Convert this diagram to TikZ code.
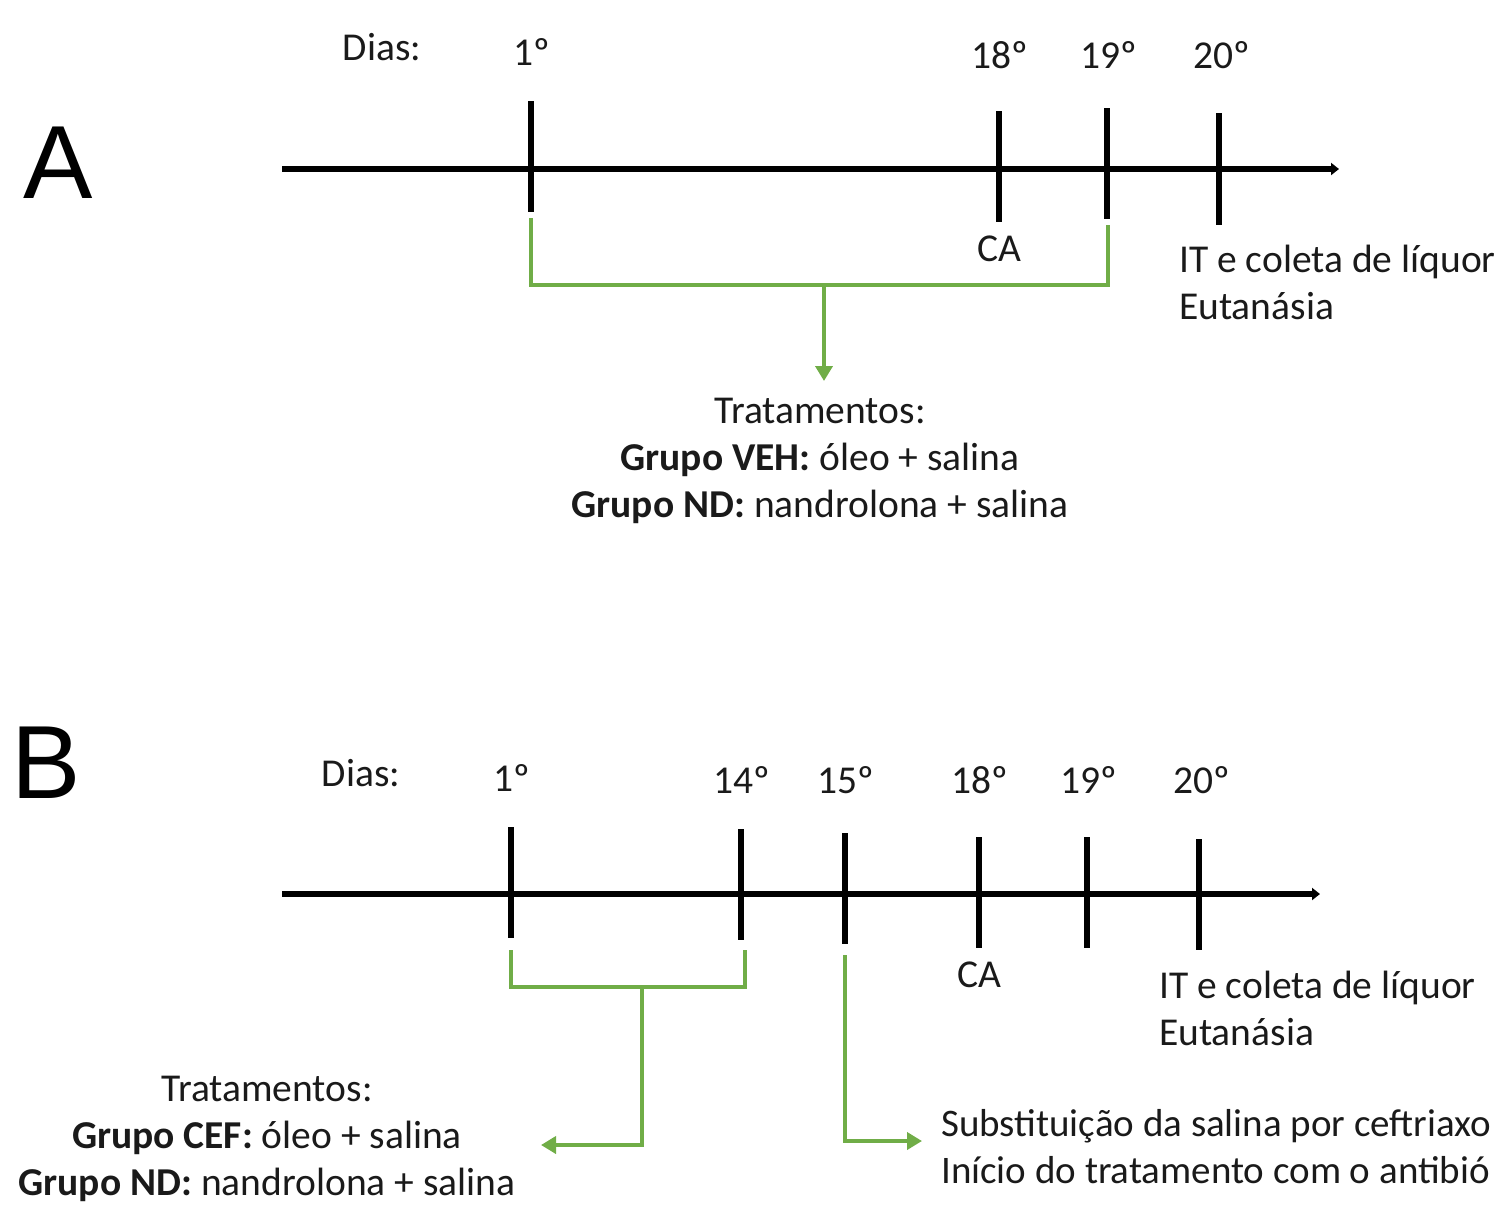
\documentclass[tikz,border=0pt]{standalone}
\usepackage{fontspec}
\setmainfont{Carlito}
\newfontfamily\arialfont{Liberation Sans}
\usetikzlibrary{arrows.meta}
\definecolor{grn}{HTML}{70AD47}
\definecolor{txt}{HTML}{1A1A1A}
\tikzset{
  lbl/.style={font=\fontsize{39.5}{47}\selectfont, inner sep=0pt, text=txt},
  big/.style={font=\arialfont\fontsize{104}{110}\selectfont, inner sep=0pt},
  axisline/.style={line width=5.5pt, -{Triangle[length=8pt,width=12pt]}},
  tickline/.style={line width=6pt},
  gline/.style={grn, line width=4pt},
  garrow/.style={grn, line width=4pt, -{Triangle[length=15pt,width=17pt]}},
}
\begin{document}
\begin{tikzpicture}[x=1pt,y=-1pt]
\useasboundingbox (0,0) rectangle (1497,1205);
% ---------------- Panel A ----------------
\node[big] (A) at (58,163) {A};
\coordinate (a0) at (282,169);
\coordinate (a1) at (1339,169);
\draw[axisline] (a0) -- (a1);
\coordinate (A1t) at (531,101);  \coordinate (A1b) at (531,212);
\coordinate (A18t) at (999,111); \coordinate (A18b) at (999,222);
\coordinate (A19t) at (1107,108);\coordinate (A19b) at (1107,219);
\coordinate (A20t) at (1219,113);\coordinate (A20b) at (1219,225);
\draw[tickline] (A1t) -- (A1b);
\draw[tickline] (A18t) -- (A18b);
\draw[tickline] (A19t) -- (A19b);
\draw[tickline] (A20t) -- (A20b);
\node[lbl] (Adias) at (382,47) {Dias:};
\node[lbl] (Ad1) at (532,52) {1º};
\node[lbl] (Ad18) at (1000,55) {18º};
\node[lbl] (Ad19) at (1109,55) {19º};
\node[lbl] (Ad20) at (1222,55) {20º};
\node[lbl] (Aca) at (999,249) {CA};
\node[lbl, anchor=west, align=left] (Ait) at (1179,282) {IT e coleta de líquor\\Eutanásia};
% green bracket
\coordinate (Ag1) at (531,218);
\coordinate (Ag2) at (531,285);
\coordinate (Ag3) at (1108,285);
\coordinate (Ag4) at (1108,225);
\coordinate (Agm) at (824,285);
\draw[gline] (Ag1) -- (Ag2) -- (Ag3) -- (Ag4);
\node[lbl, align=center] (Atrat) at (820,461) {Tratamentos:\\\textbf{Grupo VEH:} óleo + salina\\\textbf{Grupo ND:} nandrolona + salina};
\coordinate (Aarr) at (824,381);
\draw[garrow] (Agm) -- (Aarr);
% ---------------- Panel B ----------------
\node[big] (B) at (46,763) {B};
\coordinate (b0) at (282,894);
\coordinate (b1) at (1320,894);
\draw[axisline] (b0) -- (b1);
\coordinate (B1t) at (511,827);  \coordinate (B1b) at (511,938);
\coordinate (B14t) at (741,829); \coordinate (B14b) at (741,940);
\coordinate (B15t) at (845,833); \coordinate (B15b) at (845,944);
\coordinate (B18t) at (979,837); \coordinate (B18b) at (979,948);
\coordinate (B19t) at (1087,837);\coordinate (B19b) at (1087,948);
\coordinate (B20t) at (1199,839);\coordinate (B20b) at (1199,950);
\foreach \n in {1,14,15,18,19,20} {\draw[tickline] (B\n t) -- (B\n b);}
\node[lbl] (Bdias) at (361,773) {Dias:};
\node[lbl] (Bd1) at (512,778) {1º};
\node[lbl] (Bd14) at (742,780) {14º};
\node[lbl] (Bd15) at (846,780) {15º};
\node[lbl] (Bd18) at (980,780) {18º};
\node[lbl] (Bd19) at (1089,780) {19º};
\node[lbl] (Bd20) at (1202,780) {20º};
\node[lbl] (Bca) at (979,975) {CA};
\node[lbl, anchor=west, align=left] (Bit) at (1159,1008) {IT e coleta de líquor\\Eutanásia};
% green bracket days 1-14
\coordinate (Bg1) at (511,950);
\coordinate (Bg2) at (511,987);
\coordinate (Bg3) at (745,987);
\coordinate (Bg4) at (745,950);
\coordinate (Bgm) at (642,987);
\coordinate (Bgc) at (642,1145);
\coordinate (Bgl) at (541,1145);
\draw[gline] (Bg1) -- (Bg2) -- (Bg3) -- (Bg4);
\draw[garrow] (Bgm) -- (Bgc) -- (Bgl);
\node[lbl, align=center] (Btrat) at (267,1139) {Tratamentos:\\\textbf{Grupo CEF:} óleo + salina\\\textbf{Grupo ND:} nandrolona + salina};
% green arrow day 15
\coordinate (Bh1) at (845,955);
\coordinate (Bh2) at (845,1141);
\coordinate (Bh3) at (922,1141);
\draw[garrow] (Bh1) -- (Bh2) -- (Bh3);
\node[lbl, font=\fontsize{39}{47}\selectfont, anchor=west, align=left] (Bsub) at (941,1147) {Substituição da salina por ceftriaxo\\Início do tratamento com o antibió};
\end{tikzpicture}
\end{document}
